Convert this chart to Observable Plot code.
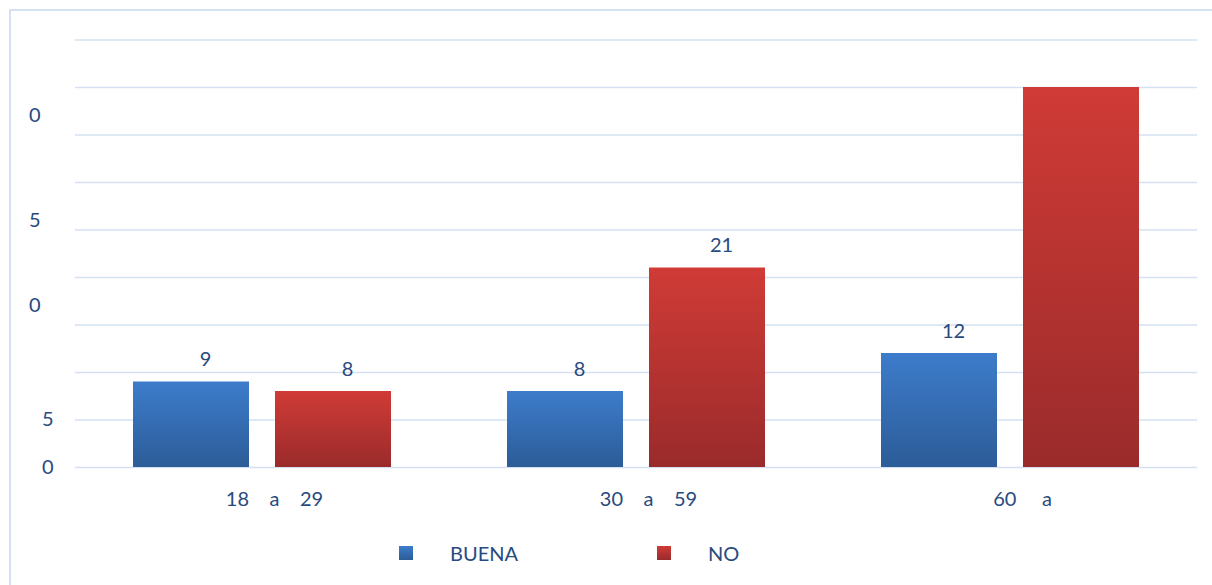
<!DOCTYPE html>
<html>
<head>
<meta charset="utf-8">
<script src="https://cdn.jsdelivr.net/npm/d3@7"></script>
<script src="https://cdn.jsdelivr.net/npm/@observablehq/plot@0.6"></script>
<style>
  html, body { margin: 0; padding: 0; background: #fff; overflow: hidden; }
  body { width: 1212px; height: 585px; position: relative; font-family: Lato, "Open Sans", sans-serif; }
  #frame { position: absolute; left: 9px; top: 9px; width: 1300px; height: 700px;
           border-top: 2px solid #d5e1f2; border-left: 2px solid #d5e1f2; box-sizing: border-box; pointer-events: none; }
  #chart { position: absolute; left: 0; top: 0; }
  #legend { position: absolute; left: 0; top: 530px; width: 1212px; height: 46px; }
  .item { position: absolute; top: 0; height: 46px; display: flex; align-items: center; color: #284a7e; font-size: 20px; }
  .sw { width: 14px; height: 14px; display: inline-block; }
</style>
</head>
<body>
<svg width="0" height="0" style="position:absolute">
  <defs>
    <linearGradient id="gBlue" x1="0" y1="0" x2="0" y2="1">
      <stop offset="0" stop-color="#3d7ccb"/>
      <stop offset="1" stop-color="#2c5c98"/>
    </linearGradient>
    <linearGradient id="gRed" x1="0" y1="0" x2="0" y2="1">
      <stop offset="0" stop-color="#d03b36"/>
      <stop offset="1" stop-color="#9a2b2b"/>
    </linearGradient>
  </defs>
</svg>
<div id="frame"></div>
<div id="chart"></div>
<div id="legend">
  <div class="item" style="left:399px"><span class="sw" style="background:linear-gradient(#3d7ccb,#2c5c98)"></span></div>
  <div class="item" style="left:450px">BUENA</div>
  <div class="item" style="left:657px"><span class="sw" style="background:linear-gradient(#d03b36,#9a2b2b)"></span></div>
  <div class="item" style="left:708px">NO</div>
</div>
<script>
// ---- data ----
const categories = [
  "18\u00a0\u00a0\u00a0\u00a0a\u00a0\u00a0\u00a0\u00a029",
  "30\u00a0\u00a0\u00a0\u00a0a\u00a0\u00a0\u00a0\u00a059",
  "60\u00a0\u00a0\u00a0\u00a0\u00a0a"
];
const series = ["BUENA", "NO"];
const buena = [9, 8, 12];
const no = [8, 21, 40];
const buenaLabels = ["9", "8", "12"];
const noLabels = ["8", "21", ""];
const gridTicks = [0, 5, 10, 15, 20, 25, 30, 35, 40, 45];
const yTicksLow = [0, 5];
const yTicksLowLabels = ["0", "5"];
const yTicksHigh = [17, 26, 37];
const yTicksHighLabels = ["0", "5", "0"];

const rows = [];
categories.forEach((c, i) => {
  rows.push({cat: c, s: "BUENA", v: buena[i], label: buenaLabels[i]});
  rows.push({cat: c, s: "NO", v: no[i], label: noLabels[i]});
});

const textColor = "#284a7e";
const font = "Lato, 'Open Sans', sans-serif";

const chart = Plot.plot({
  width: 1212,
  height: 530,
  marginLeft: 74,
  marginRight: 15,
  marginTop: 39.5,
  marginBottom: 63,
  style: {fontFamily: font, fontSize: "20px", color: textColor, background: "transparent", overflow: "visible"},
  fx: {domain: categories, padding: 0, label: null},
  x: {domain: series, paddingInner: 0.18, paddingOuter: 0.4, axis: null},
  y: {domain: [0, 45], axis: null},
  color: {type: "ordinal", domain: series, range: ["url(#gBlue)", "url(#gRed)"]},
  marks: [
    Plot.ruleY(gridTicks, {stroke: "#d5e1f2", strokeWidth: 1.6}),
    Plot.axisFx({anchor: "bottom", tickSize: 0, tickPadding: 24, fontSize: 20, dx: 12, fill: textColor, label: null}),
    Plot.axisY(yTicksLow, {anchor: "left", tickSize: 0, tickPadding: 22, fontSize: 20, fill: textColor,
      tickFormat: (d, i) => yTicksLowLabels[i], label: null}),
    Plot.axisY(yTicksHigh, {anchor: "left", tickSize: 0, tickPadding: 35, fontSize: 20, fill: textColor,
      tickFormat: (d, i) => yTicksHighLabels[i], label: null}),
    Plot.barY(rows, {fx: "cat", x: "s", y: "v", fill: "s",
      style: "filter: drop-shadow(0px 1px 2px rgba(0,0,0,0.28))"}),
    Plot.text(rows, {fx: "cat", x: "s", y: "v", text: "label", dx: 14, dy: -22, fontSize: 20, fill: textColor, lineAnchor: "middle"})
  ]
});
document.getElementById("chart").appendChild(chart);
</script>
</body>
</html>
